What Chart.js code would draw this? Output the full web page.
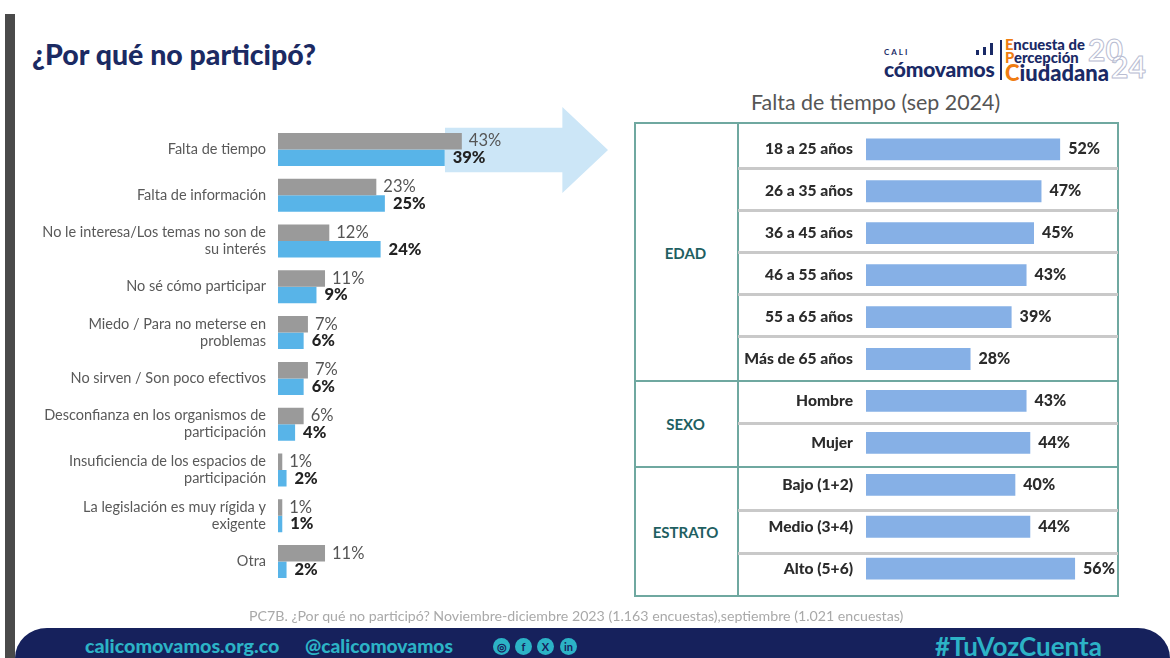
<!DOCTYPE html>
<html lang="es">
<head>
  <meta charset="UTF-8">
  <title>¿Por qué no participó?</title>
  <script src="https://cdn.jsdelivr.net/npm/chart.js"></script>
  <style>
    html, body { margin: 0; padding: 0; background: #fff; overflow: hidden; }
    body { width: 1170px; height: 658px; position: relative; font-family: Lato, sans-serif; }
    .abs { position: absolute; white-space: nowrap; }
    canvas { position: absolute; }
    .teal { background: #6fa8a0; position: absolute; }
    .gray { background: #c9c9c9; position: absolute; left: 738px; width: 380px; height: 3px; }
    .group { position: absolute; left: 634px; width: 103px; text-align: center; font-weight: 700; font-size: 15px; color: #1f5f62; }
    .logo3 { position: absolute; left: 1005px; color: #1a2a66; font-weight: 900; white-space: nowrap; }
    .logo3 b { color: #f07d12; font-weight: 900; }
    .yr { position: absolute; color: transparent; -webkit-text-stroke: 1px #b9bdd2; font-weight: 700; font-size: 30px; white-space: nowrap; }
    .ico { position: absolute; top: 638px; width: 17px; height: 17px; border-radius: 50%; background: #2cb3c6; color: #16215c; font: 700 11px/17px Lato, sans-serif; text-align: center; }
  </style>
</head>
<body>

  <!-- marco de la pagina -->
  <div class="abs" style="left:5px; top:14px; width:10px; height:644px; background:#4a4a4a;"></div>
  <div class="abs" style="left:32px; top:37px; font-size:28.5px; font-weight:900; color:#1b2a63;">¿Por qué no participó?</div>

  <!-- logo -->
  <div class="abs" style="left:884px; top:47px; font-size:8px; font-weight:700; letter-spacing:2px; color:#1a2a66;">CALI</div>
  <div class="abs" style="left:884px; top:56px; font-size:21px; font-weight:900; color:#1a2a66; letter-spacing:-0.2px;">cómovamos</div>
  <div class="abs" style="left:976px; top:50px; width:3px; height:5px; background:#1a2a66;"></div>
  <div class="abs" style="left:983px; top:47px; width:3px; height:8px; background:#1a2a66;"></div>
  <div class="abs" style="left:990px; top:43px; width:3px; height:12px; background:#1a2a66;"></div>
  <div class="abs" style="left:1000px; top:40px; width:2px; height:40px; background:#1a2a66;"></div>
  <div class="yr" style="left:1088px; top:31px;">20</div>
  <div class="yr" style="left:1111px; top:48px;">24</div>
  <div class="logo3" style="top:35px; font-size:14.8px;"><b>E</b>ncuesta de</div>
  <div class="logo3" style="top:48px; font-size:14.8px;"><b>P</b>ercepción</div>
  <div class="logo3" style="top:59px; font-size:22px;"><b>C</b>iudadana</div>

  <div class="abs" style="left:751px; top:89px; font-size:21.4px; color:#555;">Falta de tiempo (sep 2024)</div>

  <!-- flecha -->
  <div class="abs" style="left:445px; top:107px; width:163px; height:86px; background:#cce6f7; clip-path:polygon(0 24%, 72% 24%, 72% 0, 100% 50%, 72% 100%, 72% 76%, 0 76%);"></div>

  <!-- tabla derecha -->
  <div class="teal" style="left:634px; top:122px; width:485px; height:2px;"></div>
  <div class="teal" style="left:634px; top:595px; width:485px; height:2px;"></div>
  <div class="teal" style="left:634px; top:122px; width:2px; height:475px;"></div>
  <div class="teal" style="left:1117px; top:122px; width:2px; height:475px;"></div>
  <div class="teal" style="left:737px; top:122px; width:2px; height:475px;"></div>
  <div class="teal" style="left:634px; top:380px; width:485px; height:2px;"></div>
  <div class="teal" style="left:634px; top:466px; width:485px; height:2px;"></div>
  <div class="gray" style="top:167px;"></div>
  <div class="gray" style="top:209px;"></div>
  <div class="gray" style="top:251px;"></div>
  <div class="gray" style="top:293px;"></div>
  <div class="gray" style="top:335px;"></div>
  <div class="gray" style="top:422px;"></div>
  <div class="gray" style="top:509px;"></div>
  <div class="gray" style="top:552px;"></div>
  <div class="group" style="top:244px;">EDAD</div>
  <div class="group" style="top:415px;">SEXO</div>
  <div class="group" style="top:523px;">ESTRATO</div>

  <canvas id="leftChart" width="600" height="499" style="left:20px; top:106px;"></canvas>
  <canvas id="rightChart" width="380" height="506" style="left:738px; top:106px;"></canvas>

  <div class="abs" style="left:249px; top:607px; font-size:14.2px; color:#a9a9a9;">PC7B. ¿Por qué no participó? Noviembre-diciembre 2023 (1.163 encuestas),septiembre (1.021 encuestas)</div>

  <!-- pie -->
  <div class="abs" style="left:15px; top:628px; width:1155px; height:30px; background:#16215c; border-radius:32px 32px 0 0 / 30px 30px 0 0;"></div>
  <div class="abs" style="left:85px; top:634px; font-size:19.7px; font-weight:900; color:#2cb3c6;">calicomovamos.org.co</div>
  <div class="abs" style="left:305px; top:634px; font-size:19.2px; font-weight:900; color:#2cb3c6;">@calicomovamos</div>
  <div class="ico" style="left:493px;">◎</div>
  <div class="ico" style="left:515px;">f</div>
  <div class="ico" style="left:537px;">X</div>
  <div class="ico" style="left:560px;">in</div>
  <div class="abs" style="left:935px; top:630px; font-size:26px; font-weight:700; color:#2cb3c6;">#TuVozCuenta</div>

  <script>
    // GRAFICO IZQUIERDO
    const motivos = [
      'Falta de tiempo',
      'Falta de información',
      ['No le interesa/Los temas no son de', 'su interés'],
      'No sé cómo participar',
      ['Miedo / Para no meterse en', 'problemas'],
      'No sirven / Son poco efectivos',
      ['Desconfianza en los organismos de', 'participación'],
      ['Insuficiencia de los espacios de', 'participación'],
      ['La legislación es muy rígida y', 'exigente'],
      'Otra'
    ];
    const nov2023 = [43, 23, 12, 11, 7, 7, 6, 1, 1, 11];
    const sep2024 = [39, 25, 24, 9, 6, 6, 4, 2, 1, 2];

    // GRAFICO DERECHO
    const segmentos = ['18 a 25 años', '26 a 35 años', '36 a 45 años', '46 a 55 años', '55 a 65 años', 'Más de 65 años',
      'Hombre', 'Mujer', 'Bajo (1+2)', 'Medio (3+4)', 'Alto (5+6)'];
    const faltaTiempo = [52, 47, 45, 43, 39, 28, 43, 44, 40, 44, 56];

    // escribe el % al final de cada barra
    const etiquetas = {
      id: 'etiquetas',
      afterDatasetsDraw(chart, args, opts) {
        const ctx = chart.ctx;
        ctx.save();
        ctx.textBaseline = 'middle';
        ctx.textAlign = 'left';
        chart.data.datasets.forEach((ds, i) => {
          const st = opts.estilos[i];
          ctx.font = st.font;
          ctx.fillStyle = st.color;
          chart.getDatasetMeta(i).data.forEach((bar, j) => {
            ctx.fillText(ds.data[j] + '%', bar.x + st.gap, bar.y);
          });
        });
        ctx.restore();
      }
    };

    function ejeFijo(ancho) {
      return function (scale) { scale.width = ancho; };
    }

    new Chart(document.getElementById('leftChart'), {
      type: 'bar',
      data: {
        labels: motivos,
        datasets: [
          { label: 'nov-dic 2023', data: nov2023, backgroundColor: '#9a9a9a', barPercentage: 1, categoryPercentage: 0.72 },
          { label: 'sep 2024', data: sep2024, backgroundColor: '#58b4e8', barPercentage: 1, categoryPercentage: 0.72 }
        ]
      },
      options: {
        indexAxis: 'y',
        responsive: false,
        animation: false,
        layout: { padding: 0, autoPadding: false },
        scales: {
          x: { display: false, min: 0, max: 80 },
          y: {
            afterFit: ejeFijo(258),
            grid: { display: false, drawTicks: false },
            border: { display: false },
            ticks: { color: '#595959', padding: 12, autoSkip: false, font: { family: 'Lato', size: 14.5, lineHeight: '17px' } }
          }
        },
        plugins: {
          legend: { display: false },
          tooltip: { enabled: false },
          etiquetas: {
            estilos: [
              { font: '16.5px Lato', color: '#555', gap: 7 },
              { font: '900 16.5px Lato', color: '#222', gap: 8 }
            ]
          }
        }
      },
      plugins: [etiquetas]
    });

    new Chart(document.getElementById('rightChart'), {
      type: 'bar',
      data: {
        labels: segmentos,
        datasets: [
          { label: 'Falta de tiempo', data: faltaTiempo, backgroundColor: '#86b0e6', barPercentage: 0.52, categoryPercentage: 1 }
        ]
      },
      options: {
        indexAxis: 'y',
        responsive: false,
        animation: false,
        layout: { padding: 0, autoPadding: false },
        scales: {
          x: { display: false, min: 0, max: 67.5 },
          y: {
            afterFit: ejeFijo(128),
            grid: { display: false, drawTicks: false },
            border: { display: false },
            ticks: { color: '#2b2b2b', padding: 13, autoSkip: false, font: { family: 'Lato', size: 15.6, weight: '900' } }
          }
        },
        plugins: {
          legend: { display: false },
          tooltip: { enabled: false },
          etiquetas: { estilos: [{ font: '900 16px Lato', color: '#2b2b2b', gap: 8 }] }
        }
      },
      plugins: [etiquetas]
    });
  </script>

</body>
</html>
